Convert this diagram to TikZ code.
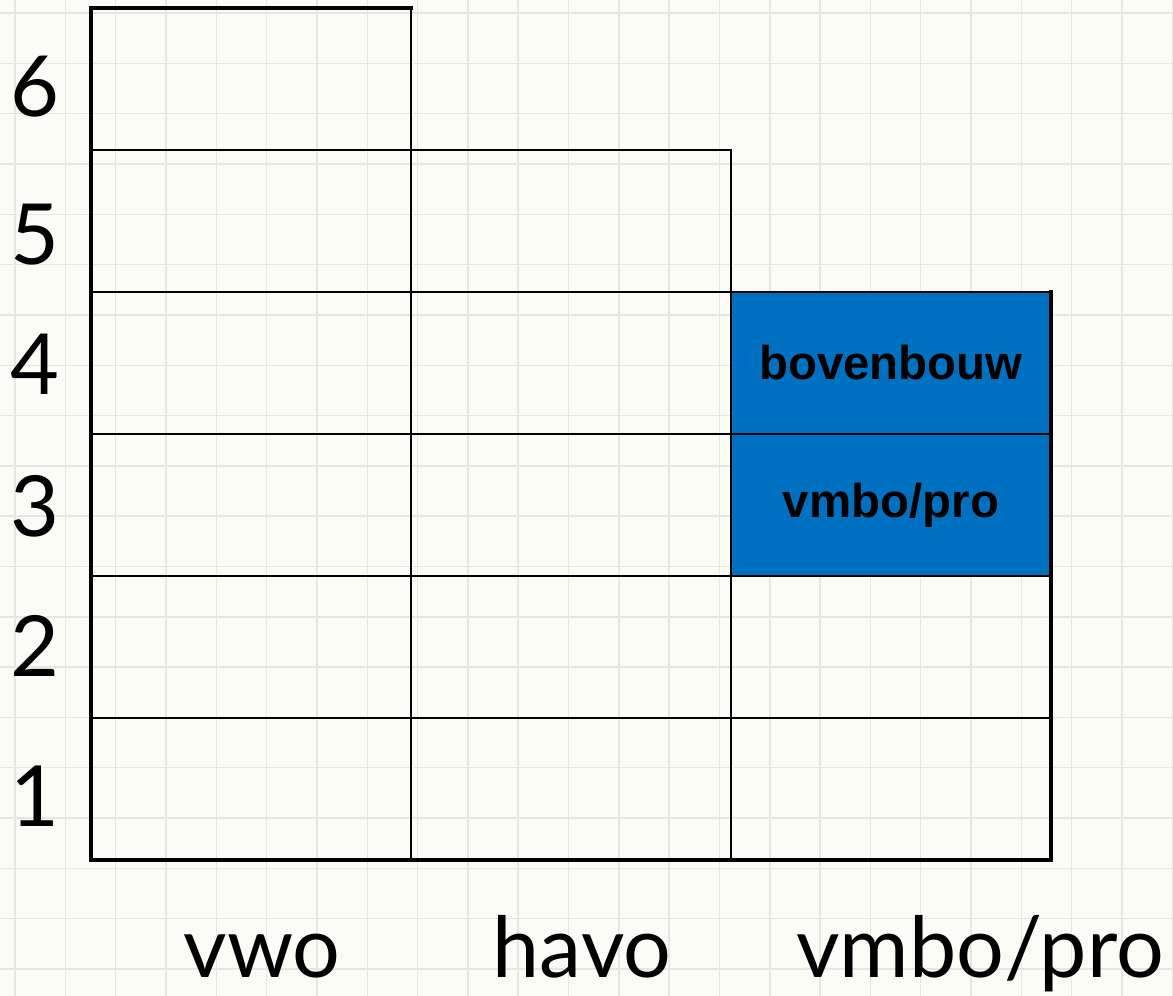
\documentclass[tikz,border=0pt]{standalone}
\usepackage{fontspec}
\usepackage{tikz}
\usetikzlibrary{positioning}
\newfontfamily\labelfont{Lato}
\newfontfamily\boxfont{Liberation Sans}
\definecolor{mblue}{RGB}{0,112,192}
\definecolor{paper}{RGB}{252,252,247}
\definecolor{gridgray}{RGB}{231,231,225}
\tikzset{cell/.style = {draw, line width = 1.1pt, minimum width = 6.4cm, minimum height = 2.84cm,
                        inner sep = 0, outer sep = 0}}
\tikzset{bluecell/.style = {cell, fill = mblue, font = \boxfont\bfseries\fontsize{27}{30}\selectfont}}
\tikzset{edge/.style = {line width = 2.7pt, line cap = rect, line join = miter}}
\tikzset{axislabel/.style = {anchor = base, inner sep = 0, font = \labelfont\fontsize{48}{56}\selectfont}}

\begin{document}
\begin{tikzpicture}
      \useasboundingbox (-1.82, -2.72) rectangle (21.64, 17.2);
      \fill [paper] (-1.82, -2.72) rectangle (21.64, 17.2);
      \foreach \i in {0,...,23}
        \draw [gridgray, line width=0.8pt] ({-1.52 + 1.0064 * \i}, -2.72) -- ++(0, 19.92);
      \foreach \k in {0,...,19}
        \draw [gridgray, line width=0.8pt] (-1.82, {16.94 - 1.0064 * \k}) -- ++(23.46, 0);

      \foreach \col/\n/\h in {vwo/0/6, havo/1/5, vmbo/2/2}
        \foreach \r in {1,...,\h}
          \node [cell] (\col-\r) at ({6.4 * \n + 3.2}, {2.84 * \r - 1.42}) {};
      \node [bluecell, above=0cm of vmbo-2] (vmbo-3) {\raisebox{-0.06cm}{vmbo/pro}};
      \node [bluecell, above=0cm of vmbo-3] (vmbo-4) {\raisebox{-0.08cm}{bovenbouw}};

      \draw [edge] (vwo-6.north east) -- (vwo-6.north west) -- (vwo-1.south west)
                   -- (vmbo-1.south east) -- (vmbo-4.north east);

      \foreach \r/\y in {1/0.66, 2/3.66, 3/6.46, 4/9.3, 5/11.9, 6/14.86}
        \node [axislabel] (row\r) at (-1.12, \y) {\r};

      \node [axislabel] (vwolabel) at (3.42, -2.36) {vwo};
      \node [axislabel] (havolabel) at (9.82, -2.36) {havo};
      \node [axislabel] (vmbolabel) at (17.78, -2.36) {vmbo/pro};
    \end{tikzpicture}
\end{document}
